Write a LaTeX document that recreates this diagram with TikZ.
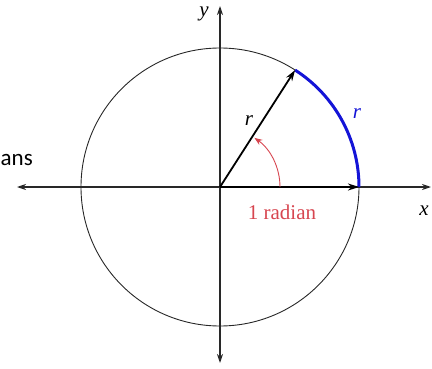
\documentclass[tikz,border=0pt]{standalone}
\usepackage{fontspec}
\setmainfont{Liberation Serif}
\newfontfamily\slidefont{Carlito}
\usepackage{xcolor}
\usetikzlibrary{calc,arrows.meta}
\definecolor{arcBlue}{RGB}{20,20,215}
\definecolor{angleRed}{RGB}{215,70,80}
\definecolor{axisGray}{RGB}{40,40,40}

\begin{document}
\begin{tikzpicture}[x=1pt,y=1pt,
  axis/.style={draw=axisGray,line width=1.2pt,{Stealth[length=9pt,width=6pt]}-{Stealth[length=9pt,width=6pt]}},
  radiusarrow/.style={draw=black,line width=1.8pt,-{Stealth[length=11pt,width=7pt]}},
  lab/.style={inner sep=0pt,font=\fontsize{21}{24}\selectfont}]
\useasboundingbox (0,0) rectangle (432,368);
% points
\coordinate (O) at (220,181);
\coordinate (W) at (17,181);
\coordinate (E) at (431,181);
\coordinate (N) at (220,362);
\coordinate (S) at (220,5);
\coordinate (P) at ($(O)+(57.3:139)$);
\coordinate (Q) at ($(O)+(0:139)$);
% circle and axes
\draw[axisGray,line width=0.9pt] (O) circle[radius=139];
\draw[axis] (W) -- (E);
\draw[axis] (N) -- (S);
% arc of length r
\draw[arcBlue,line width=3pt] (Q) arc[start angle=0,end angle=57.3,radius=139];
% the two radii
\draw[radiusarrow] (O) -- (P);
\draw[radiusarrow] (O) -- (Q);
% angle of one radian
\draw[angleRed,line width=0.9pt,-{Stealth[length=8pt,width=6pt]}] ($(O)+(60,0)$) arc[start angle=0,end angle=55,radius=60];
% labels
\node[lab] (rlab) at (249,247) {\itshape r};
\node[lab,text=arcBlue] (arclab) at (357,254) {\itshape r};
\node[lab,text=angleRed] (radlab) at (282,156) {1 radian};
\node[lab] (xlab) at (424,157) {\itshape x};
\node[lab] (ylab) at (204,354) {\itshape y};
\node[lab,anchor=east,font=\slidefont\fontsize{23}{26}\selectfont] (word) at (33,208) {ans};
\end{tikzpicture}
\end{document}
